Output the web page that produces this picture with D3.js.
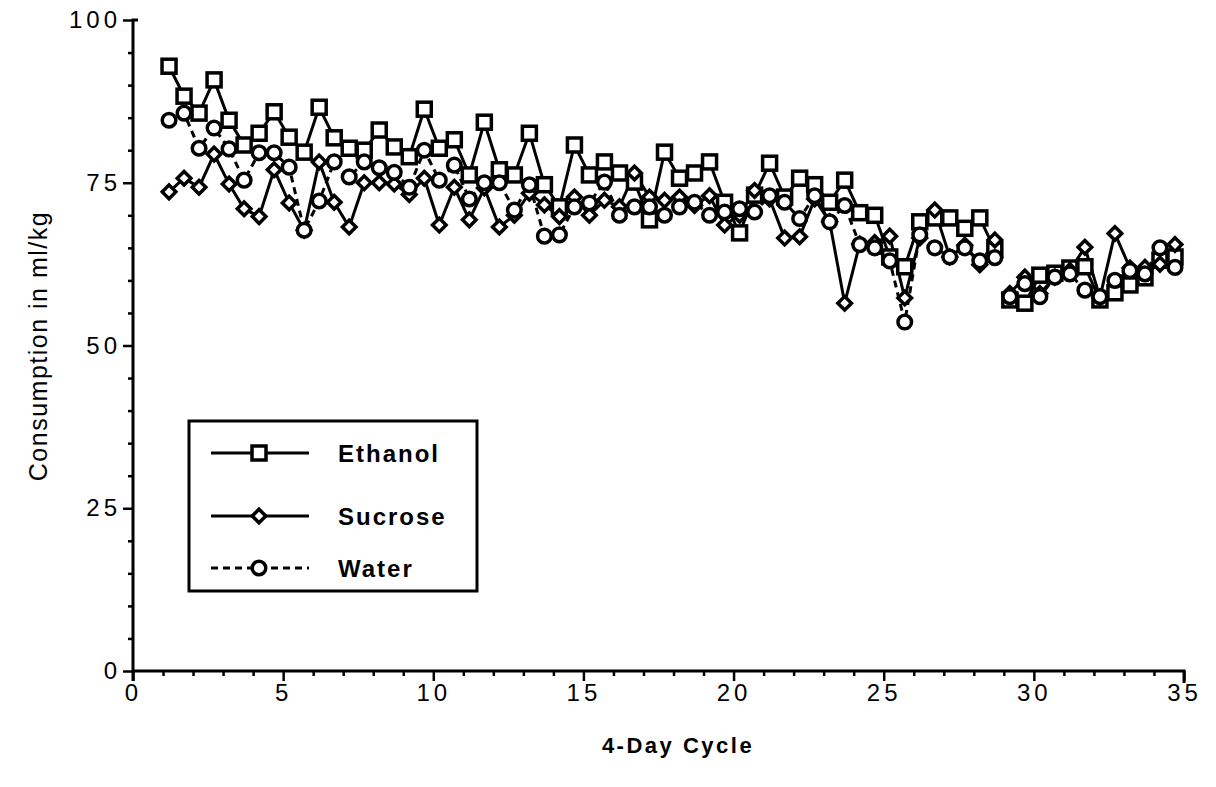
<!DOCTYPE html>
<html>
<head>
  <title>Consumption</title>
  <meta charset='utf-8'>
  <style>
    body { margin: 0; background: #fff; }
    text { font-family: "Liberation Sans", Arial, sans-serif; fill: #000; }
  </style>
</head>
<body>
  <div id="chart"></div>

  <script src="https://d3js.org/d3.v7.min.js"></script>

  <script type="text/javascript">
    // 4-day cycle positions (two readings per cycle)
    var cycles = [1.2, 1.7, 2.2, 2.7, 3.2, 3.7, 4.2, 4.7, 5.2, 5.7, 6.2, 6.7, 7.2, 7.7, 8.2, 8.7, 9.2,
                  9.7, 10.2, 10.7, 11.2, 11.7, 12.2, 12.7, 13.2, 13.7, 14.2, 14.7, 15.2, 15.7, 16.2, 16.7,
                  17.2, 17.7, 18.2, 18.7, 19.2, 19.7, 20.2, 20.7, 21.2, 21.7, 22.2, 22.7, 23.2, 23.7, 24.2,
                  24.7, 25.2, 25.7, 26.2, 26.7, 27.2, 27.7, 28.2, 28.7, 29.2, 29.7, 30.2, 30.7, 31.2, 31.7,
                  32.2, 32.7, 33.2, 33.7, 34.2, 34.7];

    var ethanol = [92.9, 88.3, 85.7, 90.8, 84.6, 80.8, 82.6, 85.9, 82.0, 79.7, 86.6, 81.9, 80.3, 80.0, 83.1, 80.5, 79.0,
                   86.3, 80.3, 81.6, 76.2, 84.3, 77.0, 76.2, 82.6, 74.7, 71.3, 80.8, 76.2, 78.2, 76.5, 75.1,
                   69.3, 79.7, 75.7, 76.5, 78.2, 72.0, 67.3, 73.1, 78.0, 72.8, 75.7, 74.7, 72.0, 75.4, 70.4,
                   70.0, 63.6, 62.1, 69.0, 69.6, 69.6, 68.0, 69.6, 64.7, 57.0, 56.5, 60.8, 61.1, 61.9, 62.1,
                   57.0, 58.1, 59.3, 60.4, 63.1, 63.6];

    var sucrose = [73.6, 75.7, 74.3, 79.4, 74.8, 71.0, 69.8, 77.0, 71.9, 67.7, 78.2, 72.0, 68.2, 75.0, 75.0, 74.8, 73.2,
                   75.7, 68.5, 74.3, 69.3, 74.2, 68.2, 70.0, 73.4, 71.6, 69.8, 72.8, 70.0, 72.3, 71.3, 76.5,
                   72.8, 72.3, 72.8, 71.5, 73.0, 68.5, 70.0, 73.8, 72.5, 66.5, 66.7, 72.5, 69.0, 56.5, 65.6,
                   65.8, 66.8, 57.3, 66.5, 70.8, 63.6, 65.4, 62.4, 66.2, 58.0, 60.5, 58.0, 60.5, 61.5, 65.1,
                   57.4, 67.2, 61.9, 62.0, 62.5, 65.5];

    var water = [84.6, 85.7, 80.3, 83.4, 80.2, 75.4, 79.6, 79.6, 77.4, 67.7, 72.2, 78.2, 75.9, 78.2, 77.3, 76.6, 74.3,
                 80.0, 75.4, 77.7, 72.5, 75.0, 75.0, 70.8, 74.7, 66.8, 67.0, 71.3, 71.9, 75.1, 70.0, 71.3,
                 71.3, 70.0, 71.3, 72.0, 70.0, 70.5, 71.0, 70.5, 73.0, 72.0, 69.5, 73.0, 69.0, 71.5, 65.5,
                 65.0, 63.0, 53.6, 67.0, 65.0, 63.6, 65.0, 63.0, 63.5, 57.5, 59.5, 57.5, 60.5, 61.0, 58.5,
                 57.5, 60.0, 61.5, 61.0, 65.0, 62.0];

    // the second phase starts here, lines are not joined across it
    var phaseStart = 29;

    var xTicks = [0, 5, 10, 15, 20, 25, 30, 35],
        yTicks = [0, 25, 50, 75, 100];

    var series = [
      {name: "Ethanol", values: ethanol, shape: "square", dash: null},
      {name: "Sucrose", values: sucrose, shape: "diamond", dash: null},
      {name: "Water",   values: water,   shape: "circle", dash: "7,5"}
    ];

    var width = 1216,
        height = 787;

    var x = d3.scaleLinear().domain([0, 35]).range([133, 1184]);
    var y = d3.scaleLinear().domain([0, 100]).range([671, 20]);

    var svg = d3.select("#chart")
                .append("svg")
                .attr("width", width)
                .attr("height", height);

    // axes: minor ticks every unit / every 5, labels on the major ones
    var xAxis = svg.append("g")
        .attr("transform", "translate(0," + y(0) + ")")
        .call(d3.axisBottom(x).tickValues(d3.range(0, 36, 1)).tickSize(5).tickFormat(""));
    xAxis.selectAll(".tick line").filter(function(d) { return d % 5 === 0; }).attr("y2", 10);

    var xLabels = svg.append("g")
        .attr("transform", "translate(0," + y(0) + ")")
        .call(d3.axisBottom(x).tickValues(xTicks).tickSize(0).tickPadding(13));
    xLabels.select(".domain").remove();

    var yAxis = svg.append("g")
        .attr("transform", "translate(" + x(0) + ",0)")
        .call(d3.axisLeft(y).tickValues(d3.range(0, 101, 5)).tickSize(5).tickFormat(""));
    yAxis.selectAll(".tick line").filter(function(d) { return d % 25 === 0; }).attr("x2", -10);

    var yLabels = svg.append("g")
        .attr("transform", "translate(" + x(0) + ",0)")
        .call(d3.axisLeft(y).tickValues(yTicks).tickSize(0).tickPadding(12));
    yLabels.select(".domain").remove();

    svg.selectAll(".domain").attr("stroke-width", 3);
    svg.selectAll(".tick line").attr("stroke-width", 2.5);
    xAxis.select(".domain").attr("d", "M" + x(0) + ",0H" + x(35) + "V12");
    yAxis.select(".domain").attr("d", "M0," + (y(0) + 10) + "V" + y(100) + "H5");

    [xLabels, yLabels].forEach(function(g) {
      g.attr("font-size", 24).attr("font-family", "Liberation Sans, Arial, sans-serif");
      g.selectAll("text")
          .style("font-size", "24px")
          .style("letter-spacing", "4px")
          .attr("fill", "#000");
    });

    // axis titles
    svg.append("text")
        .attr("x", 678)
        .attr("y", 753)
        .attr("text-anchor", "middle")
        .style("font-size", "22px")
        .style("font-weight", "bold")
        .style("letter-spacing", "2.5px")
        .text("4-Day Cycle");

    svg.append("text")
        .attr("transform", "translate(47,346) rotate(-90)")
        .attr("text-anchor", "middle")
        .style("font-size", "25px")
        .style("letter-spacing", "1.5px")
        .text("Consumption in ml/kg");

    // marker shapes
    function marker(sel, shape) {
      if (shape === "square") {
        sel.append("rect").attr("x", -7).attr("y", -7).attr("width", 14).attr("height", 14);
      } else if (shape === "diamond") {
        sel.append("path").attr("d", "M0,-6.8L6.8,0L0,6.8L-6.8,0Z");
      } else {
        sel.append("circle").attr("r", 6.8);
      }
      sel.selectAll("*").attr("fill", "#fff").attr("stroke", "#000").attr("stroke-width", 3.5);
    }

    var line = d3.line()
        .x(function(d) { return x(d.c); })
        .y(function(d) { return y(d.v); });

    series.forEach(function(s) {
      var pts = cycles.map(function(c, i) { return {c: c, v: s.values[i]}; });
      var parts = [
        pts.filter(function(p) { return p.c < phaseStart; }),
        pts.filter(function(p) { return p.c >= phaseStart; })
      ];
      parts.forEach(function(part) {
        svg.append("path")
            .datum(part)
            .attr("d", line)
            .attr("fill", "none")
            .attr("stroke", "#000")
            .attr("stroke-width", 3)
            .attr("stroke-dasharray", s.dash);
      });
      s.pts = pts;
    });

    series.forEach(function(s) {
      svg.append("g").selectAll("g")
          .data(s.pts)
          .enter()
          .append("g")
          .attr("transform", function(d) { return "translate(" + x(d.c) + "," + y(d.v) + ")"; })
          .each(function() { marker(d3.select(this), s.shape); });
    });

    // legend
    var legend = svg.append("g");
    legend.append("rect")
        .attr("x", 189).attr("y", 421).attr("width", 288).attr("height", 170)
        .attr("fill", "#fff").attr("stroke", "#000").attr("stroke-width", 3);

    var legendY = {Ethanol: 453, Sucrose: 516, Water: 568};

    series.forEach(function(s) {
      var g = legend.append("g").attr("transform", "translate(0," + legendY[s.name] + ")");
      g.append("line")
          .attr("x1", 211).attr("x2", 309)
          .attr("stroke", "#000").attr("stroke-width", 3)
          .attr("stroke-dasharray", s.dash);
      var m = g.append("g").attr("transform", "translate(259,0)");
      marker(m, s.shape);
      g.append("text")
          .attr("x", 338).attr("y", 9)
          .style("font-size", "24px")
          .style("font-weight", "bold")
          .style("letter-spacing", "2px")
          .text(s.name);
    });
  </script>
</body>
</html>
